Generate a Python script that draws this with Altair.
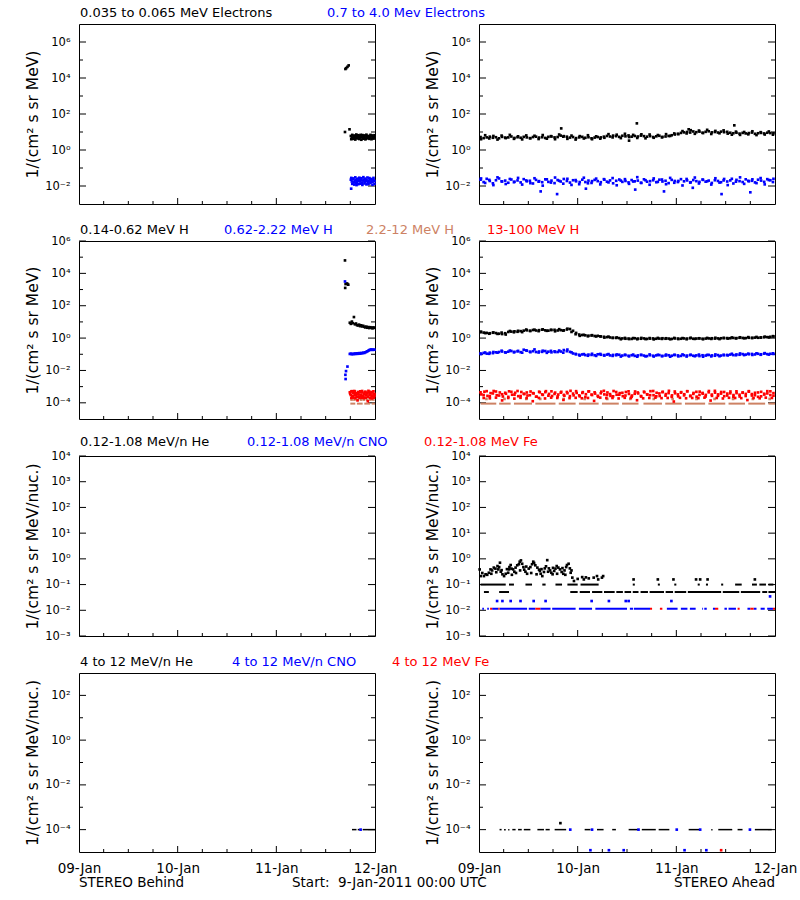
import altair as alt
import pandas as pd

FONT = "DejaVu Sans"
BLACK, BLUE, TAN, RED = "#000000", "#0000ff", "#cd8264", "#ff0000"

# ---------------- axes / labels ----------------
DAY_LABELS = ["09-Jan", "10-Jan", "11-Jan", "12-Jan"]
DAY_TICKS = [0, 24, 48, 72]
HOUR_MINOR = [6, 12, 18, 30, 36, 42, 54, 60, 66]
HOUR_MAJOR = [24, 48]
Y_DOMAINS = [(1e-3, 1e7), (1e-5, 1e6), (1e-3, 1e4), (1e-5, 1e3)]
Y_MAJOR = [[-2, 0, 2, 4, 6], [-4, -2, 0, 2, 4, 6], [-3, -2, -1, 0, 1, 2, 3, 4], [-4, -2, 0, 2]]
Y_MINOR = [[-1, 1, 3, 5], [-3, -1, 1, 3, 5], [], [-3, -1, 1]]
Y_TITLES = ["1/(cm² s sr MeV)", "1/(cm² s sr MeV)",
            "1/(cm² s sr MeV/nuc.)", "1/(cm² s sr MeV/nuc.)"]
ROW_TITLES = [
    [("0.035 to 0.065 MeV Electrons", BLACK), ("0.7 to 4.0 Mev Electrons", BLUE)],
    [("0.14-0.62 MeV H", BLACK), ("0.62-2.22 MeV H", BLUE), ("2.2-12 MeV H", TAN), ("13-100 MeV H", RED)],
    [("0.12-1.08 MeV/n He", BLACK), ("0.12-1.08 MeV/n CNO", BLUE), ("0.12-1.08 MeV Fe", RED)],
    [("4 to 12 MeV/n He", BLACK), ("4 to 12 MeV/n CNO", BLUE), ("4 to 12 MeV Fe", RED)],
]
FOOT_LEFT = "STEREO Behind"
FOOT_MID = "Start:\u00a0 9-Jan-2011 00:00 UTC"
FOOT_RIGHT = "STEREO Ahead"

# ---------------- data (hours since 9-Jan 00:00, log10 flux) ----------------
# Row 1, STEREO Behind electrons
b_e1_spike_h = [64.7, 64.8, 65.0, 65.3, 65.6, 65.8]
b_e1_spike_v = [1.00, 4.50, 4.55, 4.62, 4.70, 1.15]
b_e1_band = [0.78, 0.70, 0.62, 0.74, 0.68, 0.80, 0.72, 0.65, 0.76, 0.69, 0.84, 0.71, 0.66,
             0.75, 0.70, 0.63, 0.78, 0.72, 0.67, 0.74, 0.69, 0.80, 0.71, 0.65, 0.73]
b_e1_band_b = [0.60, 0.84, 0.64, 0.80, 0.58, 0.86, 0.66, 0.82, 0.61, 0.79, 0.57, 0.83, 0.63, 0.81,
               0.59, 0.85, 0.65, 0.78, 0.62, 0.84, 0.60, 0.80, 0.64, 0.82]
b_e2_band = [-1.65, -1.75, -1.62, -1.80, -1.70, -1.66, -1.78, -1.72, -1.60, -1.74, -1.68, -1.82, -1.70,
             -1.64, -1.76, -1.71, -1.67, -1.79, -1.73, -1.62, -1.75, -1.69, -1.77, -1.66, -1.72]
b_e2_band_b = [-1.55, -1.88, -1.58, -1.92, -1.52, -1.85, -1.60, -1.90, -1.54, -1.87, -1.57, -1.94,
               -1.51, -1.86, -1.59, -1.91, -1.53, -1.89, -1.56, -1.84, -1.61, -1.93, -1.55, -1.88]
b_e2_out_h = [66.2, 67.5]
b_e2_out_v = [-2.15, -1.95]

# Row 1, STEREO Ahead electrons
a_e1 = [0.72, 0.66, 0.70, 0.74, 0.68, 0.71, 0.65, 0.73, 0.69, 0.70, 0.75, 0.67, 0.71, 0.68, 0.73, 0.70,
        0.66, 0.72, 0.74, 0.69, 0.71, 0.67, 0.73, 0.75, 0.70, 0.72, 0.80, 0.77,
        0.74, 0.69, 0.72, 0.66, 0.70, 0.73, 0.68, 0.71, 0.65, 0.69, 0.72, 0.70, 0.74,
        0.78, 0.75, 0.80, 0.77, 0.73, 0.79, 0.76, 0.81, 0.74, 0.78, 0.75, 0.80, 0.77,
        0.74, 0.77, 0.72, 0.76, 0.79, 0.73, 0.75, 0.78,
        0.82, 0.86, 0.90, 0.95, 0.98,
        1.00, 0.97, 1.03, 0.99, 1.02, 0.96, 1.01, 1.04, 0.98, 1.00, 0.97, 1.02, 0.99, 1.01, 0.96,
        0.93, 0.96, 0.91, 0.95, 0.92, 0.94, 0.97, 0.90, 0.93, 0.95, 0.92, 0.96, 0.94, 0.93]
a_e1_b = [0.60, 0.82, 0.64, 0.78, 0.58, 0.80, 0.66, 0.84, 0.62, 0.76, 0.59, 0.81, 0.65, 0.79, 0.61,
          0.83, 0.63, 0.77, 0.60, 0.86, 0.74, 0.62, 0.80, 0.58, 0.77, 0.64, 0.82, 0.60, 0.76, 0.63,
          0.68, 0.88, 0.70, 0.85, 0.66, 0.90, 0.72, 0.84, 0.67, 0.87, 0.65, 0.86, 0.68, 0.83, 0.70,
          0.88, 0.78, 0.92, 0.88, 1.05, 0.92, 1.10, 0.90, 1.08, 0.94, 1.12, 0.89, 1.06, 0.93, 1.09,
          0.91, 0.85, 1.02, 0.84, 1.00, 0.87, 1.04, 0.83, 0.99, 0.86, 1.03, 0.85]
a_e1_out_h = [20.0, 36.5, 38.4, 51.0, 62.1]
a_e1_out_v = [1.20, 0.52, 1.48, 1.15, 1.37]
a_e2 = [-1.65, -1.78, -1.60, -1.72, -1.85, -1.68, -1.58, -1.75, -1.70, -1.82, -1.64, -1.76, -1.69, -1.80,
        -1.62, -1.74, -1.71, -1.86, -1.66, -1.73, -1.79, -1.63, -1.77, -1.70, -1.84, -1.67,
        -1.75, -1.61, -1.72, -1.81, -1.68, -1.74, -1.90, -1.65, -1.78, -1.70, -1.83, -1.66, -1.73, -1.79,
        -1.62, -1.76, -1.69, -1.85, -1.71, -1.64, -1.77, -1.72, -1.80, -1.67, -1.74, -1.70, -1.82, -1.63,
        -1.76, -1.73, -1.68, -1.79, -1.65, -1.75, -1.71, -1.84, -1.66, -1.72, -1.78, -1.62, -1.74, -1.69,
        -1.81, -1.67, -1.73, -1.77, -1.64, -1.76, -1.70, -1.83, -1.68, -1.72, -1.79, -1.61, -1.75, -1.69,
        -1.86, -1.66, -1.73, -1.78, -1.63, -1.74, -1.71, -1.80, -1.65, -1.70, -1.77, -1.62, -1.68, -1.60]
a_e2_b = [-1.58, -1.83, -1.66, -1.95, -1.52, -1.74, -1.89, -1.61, -1.79, -1.55, -1.92, -1.69, -1.84,
          -1.57, -1.76, -1.98, -1.63, -1.81, -1.53, -1.71, -1.87, -1.60, -1.94, -1.67, -1.78, -1.54,
          -1.85, -1.73, -1.59, -1.91, -1.65, -1.80, -1.56, -1.96, -1.70, -1.62, -1.88, -1.75, -1.51,
          -1.83, -1.68, -1.93, -1.58, -1.77, -1.64, -1.90, -1.55, -1.82, -1.72, -1.97, -1.61, -1.79,
          -1.53, -1.86, -1.66, -1.74, -1.92, -1.57, -1.81, -1.69, -1.95, -1.60, -1.76, -1.52, -1.88,
          -1.71, -1.63, -1.84, -1.56, -1.91, -1.67, -1.78]
a_e2_out_h = [15.0, 19.0, 26.0, 38.0, 45.0, 52.0, 59.0, 66.0]
a_e2_out_v = [-2.30, -2.45, -2.15, -2.20, -2.30, -2.10, -2.45, -2.35]

# Row 2, STEREO Behind protons
b_h1_spike_h = [64.7, 64.75, 64.85, 65.1, 65.3, 65.5]
b_h1_spike_v = [4.80, 3.10, 3.34, 3.37, 3.35, 3.30]
b_h1_band = [0.95, 0.88, 1.02, 0.92, 1.30, 0.85, 0.90, 0.80, 0.78, 0.83, 0.74, 0.79, 0.72,
             0.76, 0.70, 0.66, 0.71, 0.64, 0.68, 0.62, 0.67, 0.65, 0.60, 0.66, 0.63]
b_h2_spike_h = [64.7, 64.8, 64.85, 64.95, 65.3]
b_h2_spike_v = [3.50, -2.27, -2.53, -2.04, -1.76]
b_h2_band = [-0.98, -0.96, -1.00, -0.97, -0.99, -0.95, -0.98, -0.94, -0.97, -0.93, -0.96, -0.92, -0.94,
             -0.90, -0.92, -0.88, -0.85, -0.82, -0.78, -0.74, -0.72, -0.70, -0.73, -0.71, -0.72]
b_h4_band = [-3.35, -3.52, -3.28, -3.60, -3.42, -3.30, -3.55, -3.47, -3.38, -3.63, -3.32, -3.50, -3.27,
             -3.58, -3.44, -3.36, -3.53, -3.40, -3.62, -3.31, -3.48, -3.34, -3.56, -3.29, -3.45]
b_h4_b = [-3.45, -3.30, -3.58, -3.38, -3.27, -3.52, -3.41, -3.62, -3.33, -3.49, -3.29, -3.56, -3.36,
          -3.60, -3.44, -3.31, -3.54, -3.39, -3.26, -3.50, -3.43, -3.61, -3.34, -3.47, -3.57]
b_h4_low = [-3.70, -3.68, -3.72, -3.85, -3.70, -3.69, -3.71, -3.70, -3.90, -3.70, -3.73, -3.68]
b_h3_segs = [(66.0, 67.2), (67.6, 69.0), (69.4, 70.8), (71.2, 72.0)]
b_h3_up_h = [66.3, 67.0, 67.8, 68.6, 69.3, 70.1, 70.9, 71.6]

# Row 2, STEREO Ahead protons
a_h1 = [0.36, 0.34, 0.32, 0.30, 0.33, 0.31, 0.27, 0.25, 0.30,
        0.38, 0.40, 0.42, 0.39, 0.43,
        0.46, 0.48, 0.45, 0.50, 0.47, 0.49, 0.52, 0.48, 0.46, 0.50, 0.51, 0.47, 0.49, 0.48, 0.53, 0.56,
        0.45, 0.32, 0.22, 0.19, 0.17, 0.15, 0.16, 0.13, 0.14,
        0.10, 0.08, 0.06, 0.04, 0.02, 0.01, 0.00,
        -0.02, -0.04, -0.03, -0.05, -0.01, -0.03, -0.04, -0.02, -0.05, -0.03, -0.02, -0.04, -0.03, -0.01,
        -0.04, -0.03, -0.05, -0.02, -0.03, -0.04, -0.02, -0.03, -0.01, -0.04, -0.03, -0.02, -0.04, -0.03,
        -0.02, -0.01, -0.03, -0.02, -0.01, 0.00,
        0.00, -0.01, 0.01, 0.00, 0.02, 0.01, 0.00, 0.02, 0.01, 0.03, 0.02, 0.04, 0.05, 0.06, 0.08, 0.10]
a_h1_b = [0.40, 0.31, 0.27, 0.35, 0.26, 0.34, 0.22, 0.44, 0.36, 0.45,
          0.37, 0.53, 0.44, 0.52, 0.43, 0.54, 0.45, 0.51, 0.42, 0.55,
          0.46, 0.58, 0.38, 0.24, 0.14, 0.20, 0.11, 0.18, 0.10, 0.11,
          0.03, 0.09, 0.01, 0.04, -0.07, 0.01, -0.06, 0.00, -0.07, 0.01,
          -0.06, 0.00, -0.08, 0.01, -0.05, -0.01, -0.07, 0.01, -0.06, 0.00,
          -0.07, 0.02, -0.05, -0.01, -0.07, 0.01, -0.05, 0.02, -0.06, 0.01,
          -0.03, 0.04, -0.02, 0.05, -0.01, 0.06, 0.01, 0.07, 0.03, 0.09, 0.05, 0.12]
a_h2 = [-0.95, -0.92, -0.96, -0.90, -0.93, -0.88,
        -0.86, -0.83, -0.88, -0.84, -0.80, -0.85, -0.82, -0.87, -0.72, -0.78, -0.84, -0.81, -0.86, -0.83,
        -0.85, -0.80, -0.84, -0.88, -0.82, -0.86, -0.83, -0.74, -0.81, -0.85,
        -0.95, -1.00, -1.03, -1.01, -1.05, -1.02, -1.04, -1.06, -1.00, -1.03, -1.05, -1.02, -1.07, -1.04,
        -1.06, -1.03,
        -1.08, -1.05, -1.09, -1.06, -1.10, -1.07, -1.04, -1.08, -1.11, -1.06, -1.09, -1.07, -1.05, -1.10,
        -1.08, -1.06, -1.09, -1.04, -1.07, -1.10, -1.06, -1.08, -1.05, -1.09, -1.07, -1.11, -1.06, -1.08,
        -1.04, -1.07, -1.09, -1.05, -1.08, -1.06,
        -1.04, -1.02, -1.05, -1.01, -1.03, -0.99, -1.02, -1.00, -0.98, -1.01, -0.97, -1.00, -0.96, -0.99,
        -0.97, -0.98]
a_h2_b = [-0.99, -0.89, -0.97, -0.86, -0.90, -0.78, -0.89, -0.77, -0.88, -0.79,
          -0.90, -0.76, -0.87, -0.70, -0.89, -0.78, -0.91, -0.79, -0.86, -0.77,
          -0.90, -0.71, -0.88, -0.98, -1.08, -0.99, -1.09, -0.97, -1.10, -0.98,
          -1.08, -0.99, -1.10, -1.01, -1.14, -1.03, -1.13, -1.02, -1.15, -1.04,
          -1.13, -1.01, -1.14, -1.03, -1.12, -1.02, -1.15, -1.04, -1.13, -1.01,
          -1.14, -1.03, -1.12, -1.02, -1.15, -1.04, -1.13, -1.01, -1.12, -1.03,
          -1.07, -0.97, -1.06, -0.95, -1.05, -0.96, -1.04, -0.94, -1.03, -0.93, -1.02, -0.94]
a_h4 = [-3.35, -3.52, -3.28, -3.60, -3.42, -3.30, -3.55, -3.47, -3.38, -3.63, -3.32, -3.50, -3.27, -3.58,
        -3.44, -3.36, -3.53, -3.40, -3.62, -3.31, -3.48, -3.34, -3.56, -3.29, -3.45, -3.61, -3.37, -3.51,
        -3.33, -3.59, -3.43, -3.28, -3.54, -3.39, -3.64, -3.30, -3.49, -3.35, -3.57, -3.41, -3.26, -3.52,
        -3.46, -3.60, -3.33, -3.50, -3.38, -3.55, -3.29, -3.62, -3.44, -3.36, -3.58, -3.31, -3.47, -3.53,
        -3.27, -3.60, -3.42, -3.34, -3.56, -3.40, -3.63, -3.30, -3.48, -3.37, -3.54, -3.28, -3.59, -3.45,
        -3.32, -3.51, -3.39, -3.61, -3.35, -3.49, -3.26, -3.57, -3.43, -3.33, -3.55, -3.41, -3.62, -3.29,
        -3.50, -3.38, -3.58, -3.31, -3.46, -3.53, -3.36, -3.60, -3.44, -3.28, -3.52, -3.40]
a_h4_b = [-3.48, -3.31, -3.57, -3.40, -3.27, -3.53, -3.36, -3.61, -3.44, -3.29, -3.50, -3.38, -3.59,
          -3.33, -3.46, -3.55, -3.30, -3.42, -3.62, -3.35, -3.51, -3.28, -3.45, -3.58, -3.37, -3.49,
          -3.32, -3.56, -3.41, -3.26, -3.54, -3.39, -3.60, -3.34, -3.47, -3.29, -3.52, -3.43, -3.63,
          -3.31, -3.48, -3.36, -3.57, -3.27, -3.50, -3.40, -3.59, -3.33, -3.45, -3.55, -3.30, -3.42,
          -3.61, -3.35, -3.49, -3.28, -3.53, -3.38, -3.58, -3.32, -3.46, -3.26, -3.54, -3.41, -3.60,
          -3.34, -3.47, -3.29, -3.56, -3.39, -3.62, -3.31, -3.44, -3.51, -3.27, -3.57, -3.37, -3.48,
          -3.33, -3.59, -3.43, -3.30, -3.52, -3.40, -3.61, -3.36, -3.45, -3.28, -3.55, -3.38, -3.63,
          -3.32, -3.49, -3.42, -3.29, -3.56]
a_h4_low = [-3.70, -3.72, -3.68, -3.85, -3.70, -3.74, -3.69, -3.71, -3.90, -3.70, -3.73, -3.68, -3.70,
            -3.82, -3.71, -3.69, -3.72, -3.70, -3.88, -3.68, -3.71, -3.70, -3.73, -3.69, -3.70, -3.84,
            -3.72, -3.70, -3.68, -3.71, -3.70, -3.92, -3.69, -3.72, -3.70, -3.71, -3.68, -3.86, -3.70,
            -3.73, -3.69, -3.70, -3.71, -3.83, -3.70, -3.72, -3.68, -3.70]
a_h3_segs = [(0.4, 4.2), (4.9, 7.7), (8.5, 12.9), (13.7, 18.6), (19.4, 23.5), (24.3, 29.1), (29.9, 34.0),
             (34.8, 38.8), (40.0, 44.5), (45.3, 49.3), (50.1, 55.0), (55.8, 59.9), (60.7, 64.7),
             (65.5, 69.6), (70.4, 72.0)]
a_h3_up_h = [1.8, 6.2, 11.5, 14.9, 20.6, 25.7, 31.2, 36.8, 42.5, 47.1, 52.9, 57.3, 61.8, 66.6, 70.7]

# Row 3, STEREO Ahead 0.12-1.08 MeV/n
a_he_scatter_h = [0.16, 0.4, 1.2, 1.6, 2.4, 2.8, 3.2, 3.6, 4.0, 4.5, 4.7, 4.9, 5.1, 5.3, 5.7, 6.1, 6.5,
                  7.1, 7.3, 7.4, 7.7, 7.9, 8.3, 8.6, 8.9, 9.3, 9.7, 9.9, 10.2, 10.5, 10.8, 11.0, 11.3,
                  11.7, 12.1, 12.5, 12.9, 13.2, 13.4, 13.7, 14.2, 14.6, 14.8, 15.0, 15.4, 15.8, 16.0,
                  16.3, 16.6, 17.0, 17.3, 17.6, 17.9, 18.3, 18.6, 18.9, 19.3, 19.7, 20.1, 20.5, 20.8,
                  21.2, 21.4, 21.8, 22.1, 22.3, 22.7, 23.1, 25.1, 25.5, 26.7, 27.9, 28.7, 29.9, 30.2,
                  0.8, 2.0, 3.0, 4.2, 5.5, 6.8, 8.0, 9.0, 10.0, 11.5, 12.7, 14.0, 15.2, 16.8, 18.0,
                  19.0, 20.3, 21.0, 22.5, 24.0, 26.0, 29.0,
                  37.6, 43.5, 47.3, 52.8, 53.8, 55.6, 67.1]
a_he_scatter_v = [-0.41, -0.67, -0.67, -0.60, -0.54, -0.41, -0.45, -0.34, -0.38, -0.28, -0.41, -0.32,
                  -0.15, -0.50, -0.60, -0.67, -0.58, -0.54, -0.41, -0.32, -0.24, -0.38, -0.41, -0.50,
                  -0.34, -0.25, -0.21, -0.11, -0.06, -0.19, -0.32, -0.42, -0.50, -0.58, -0.38, -0.32,
                  -0.21, -0.11, -0.16, -0.25, -0.34, -0.42, -0.47, -0.58, -0.67, -0.51, -0.37, -0.29,
                  -0.05, -0.37, -0.45, -0.54, -0.60, -0.47, -0.38, -0.28, -0.34, -0.41, -0.51, -0.58,
                  -0.45, -0.32, -0.24, -0.19, -0.37, -0.54, -0.73, -0.86, -0.71, -0.80, -0.76, -0.73,
                  -0.67, -0.73, -0.67,
                  -0.55, -0.62, -0.58, -0.52, -0.44, -0.40, -0.62, -0.55, -0.45, -0.30, -0.55, -0.60,
                  -0.40, -0.50, -0.35, -0.58, -0.36, -0.62, -0.45, -0.78, -0.72, -0.80,
                  -0.80, -0.80, -0.80, -0.80, -0.80, -0.80, -0.80]
a_he_01_segs = [(0.4, 6.5), (7.3, 8.5), (11.3, 12.9), (15.4, 16.2), (18.6, 20.2), (21.5, 24.0),
                (24.7, 29.1), (37.4, 37.9), (43.5, 44.0), (47.5, 48.0), (53.2, 53.7), (55.2, 55.7),
                (58.9, 59.4), (62.3, 63.9), (66.4, 67.6), (68.2, 69.8), (70.4, 71.6)]
a_he_005_segs = [(1.2, 2.4), (4.9, 7.3), (22.2, 24.0), (24.5, 27.0), (27.5, 30.0), (30.4, 33.0),
                 (33.4, 35.0), (35.4, 37.0), (37.4, 38.8), (39.3, 41.1), (41.5, 45.0), (45.4, 47.2),
                 (47.6, 50.4), (50.8, 58.9), (59.3, 63.3), (63.7, 68.4), (68.9, 70.1), (70.4, 72.0)]
a_cno_segs = [(0.8, 1.2), (2.0, 2.4), (3.2, 4.7), (5.0, 11.7), (12.1, 13.7), (14.9, 17.4), (17.8, 23.5),
              (24.3, 27.5), (28.3, 36.0), (36.7, 37.5), (37.7, 41.6), (45.7, 48.3), (49.1, 50.7),
              (51.3, 52.7), (54.3, 54.5), (54.8, 55.4), (56.9, 57.4), (59.7, 60.3), (60.7, 62.5),
              (65.3, 66.0), (66.8, 67.5), (68.5, 69.5), (70.1, 71.5)]
a_fe_segs = [(2.7, 3.2), (4.7, 5.0), (13.7, 14.9), (41.6, 42.1), (44.0, 44.6), (57.4, 58.2),
             (62.9, 63.4), (66.0, 66.8), (71.5, 72.0)]
a_cno_up_h = [4.4, 5.7, 7.7, 10.1, 13.3, 16.2, 27.4, 31.6, 35.7, 36.4, 46.8, 70.8]
a_cno_up_v = [-1.64, -1.64, -1.64, -1.64, -1.64, -1.64, -1.64, -1.64, -1.64, -1.64, -1.64, -1.46]
HE_LEVEL_01, HE_LEVEL_005, CNO_LEVEL = -1.0, -1.29, -1.94

# Row 4, 4-12 MeV/n
b_he4_segs = [(66.4, 67.5), (67.8, 68.3), (69.0, 72.0)]
b_cno4_h = [68.5]
a_he4_segs = [(5.0, 5.5), (6.1, 6.5), (7.1, 7.4), (8.1, 8.9), (9.5, 10.4), (10.9, 12.5), (14.2, 15.8),
              (16.2, 17.2), (18.4, 21.2), (25.7, 27.1), (28.7, 30.3), (32.4, 33.3), (36.4, 38.7),
              (39.6, 43.0), (43.7, 46.3), (51.0, 53.6), (56.5, 56.8), (58.2, 61.6), (62.9, 64.1),
              (67.1, 71.2)]
a_cno4_h = [22.2, 27.5, 38.8, 48.1, 53.8, 65.9]
a_cno4_low_h = [27.1, 31.6, 35.2, 50.0, 55.3]
a_fe4_low_h = [58.9]
a_he4_high_h, a_he4_high_v = [19.8], [-3.71]
LEVEL4, LEVEL4_LOW = -4.0, -4.92

# ---------------- layout ----------------
W = 296
ROW_H = [180, 178, 180, 179]
ROW_TITLE_X = [[1, 248], [1, 145, 287, 408], [1, 168, 345], [1, 153, 313]]
ROW_TITLE_Y = [-11, -11, -14, -11]
SEG_W = [2, 2, 2, 1.5]


def band(t0, t1, vals, color):
    step = (t1 - t0) / len(vals)
    return [{"h": t0 + (i + 0.5) * step, "v": 10 ** x, "c": color} for i, x in enumerate(vals)]


def pts(hs, vs, color):
    return [{"h": h, "v": 10 ** v, "c": color} for h, v in zip(hs, vs)]


def segs(pairs, level, color):
    return [{"h": a, "h2": b, "v": 10 ** level, "c": color} for a, b in pairs]


SUP = "['10⁻⁵','10⁻⁴','10⁻³','10⁻²','10⁻¹','10⁰','10¹','10²','10³','10⁴','10⁵','10⁶','10⁷']"


def panel(row, points, segments, bottom=False, titles=None, foot=None):
    H = ROW_H[row]
    ysc = alt.Scale(type="log", domain=list(Y_DOMAINS[row]), nice=False)
    xsc = alt.Scale(domain=[0, 72], nice=False, zero=False)
    yax = alt.Axis(values=[10.0 ** e for e in Y_MAJOR[row]],
                   labelExpr=SUP + "[round(log(datum.value)/LN10)+5]",
                   title=Y_TITLES[row], grid=False, ticks=False, domain=False,
                   labelPadding=9, labelFont=FONT, labelFontSize=11.5, labelColor=BLACK,
                   labelOverlap=False, labelBound=False, labelFlush=False,
                   titleFont=FONT, titleFontSize=15.5, titleFontWeight="normal", titleColor=BLACK,
                   titleAngle=270, titleX=-47, titleY=H / 2, titleAlign="center",
                   titleBaseline="middle")
    if bottom:
        xax = alt.Axis(values=DAY_TICKS, labelExpr=str(DAY_LABELS) + "[round(datum.value/24)]",
                       title=None, grid=False, ticks=False, domain=False, labelPadding=9,
                       labelFont=FONT, labelFontSize=13.5, labelColor=BLACK,
                       labelFlush=False, labelOverlap=False)
    else:
        xax = None

    def Y():
        return alt.Y("v:Q", scale=ysc, axis=yax)

    def X():
        return alt.X("h:Q", scale=xsc, axis=xax)

    major = pd.DataFrame({"v": [10.0 ** e for e in Y_MAJOR[row]]})
    layers = [
        alt.Chart(major).mark_rule(color=BLACK).encode(y=Y(), x=alt.value(0), x2=alt.value(7)),
        alt.Chart(major).mark_rule(color=BLACK).encode(y=Y(), x=alt.value(W - 7), x2=alt.value(W)),
    ]
    if Y_MINOR[row]:
        minor = pd.DataFrame({"v": [10.0 ** e for e in Y_MINOR[row]]})
        layers += [
            alt.Chart(minor).mark_rule(color=BLACK).encode(y=Y(), x=alt.value(0), x2=alt.value(4)),
            alt.Chart(minor).mark_rule(color=BLACK).encode(y=Y(), x=alt.value(W - 4), x2=alt.value(W)),
        ]
    layers += [
        alt.Chart(pd.DataFrame({"h": HOUR_MAJOR})).mark_rule(color=BLACK).encode(
            x=X(), y=alt.value(H - 6), y2=alt.value(H)),
        alt.Chart(pd.DataFrame({"h": HOUR_MINOR})).mark_rule(color=BLACK).encode(
            x=X(), y=alt.value(H - 3), y2=alt.value(H)),
    ]
    if segments:
        layers.append(alt.Chart(pd.DataFrame(segments)).mark_rule(strokeWidth=SEG_W[row]).encode(
            x=X(), x2="h2:Q", y=Y(), color=alt.Color("c:N", scale=None)))
    if points:
        layers.append(alt.Chart(pd.DataFrame(points)).mark_square(size=7, opacity=1).encode(
            x=X(), y=Y(), color=alt.Color("c:N", scale=None)))
    if titles:
        for (txt, col), px in zip(titles, ROW_TITLE_X[row]):
            layers.append(alt.Chart(pd.DataFrame({"t": [txt]})).mark_text(
                align="left", baseline="middle", font=FONT, fontSize=13, color=col).encode(
                x=alt.value(px), y=alt.value(ROW_TITLE_Y[row]), text="t:N"))
    if foot:
        for txt, px, al in foot:
            layers.append(alt.Chart(pd.DataFrame({"t": [txt]})).mark_text(
                align=al, baseline="middle", font=FONT, fontSize=13.5, color=BLACK).encode(
                x=alt.value(px), y=alt.value(H + 31), text="t:N"))
    return alt.layer(*layers).properties(width=W, height=H)


# Row 1
p1l = (pts(b_e1_spike_h, b_e1_spike_v, BLACK) + band(66.0, 72.0, b_e1_band, BLACK)
       + band(66.1, 72.0, b_e1_band_b, BLACK)
       + band(66.0, 72.0, b_e2_band, BLUE) + band(66.1, 72.0, b_e2_band_b, BLUE)
       + pts(b_e2_out_h, b_e2_out_v, BLUE))
p1r = (band(0, 72, a_e1, BLACK) + band(0, 72, a_e1_b, BLACK) + pts(a_e1_out_h, a_e1_out_v, BLACK)
       + band(0, 72, a_e2, BLUE) + band(0, 72, a_e2_b, BLUE) + pts(a_e2_out_h, a_e2_out_v, BLUE))
# Row 2
p2l = (pts(b_h1_spike_h, b_h1_spike_v, BLACK) + band(65.75, 72.0, b_h1_band, BLACK)
       + pts(b_h2_spike_h, b_h2_spike_v, BLUE) + band(65.75, 72.0, b_h2_band, BLUE)
       + pts(b_h3_up_h, [-3.80] * len(b_h3_up_h), TAN)
       + band(65.75, 72.0, b_h4_band, RED) + band(65.85, 72.0, b_h4_b, RED)
       + band(66.0, 72.0, b_h4_low, RED))
s2l = segs(b_h3_segs, -4.05, TAN)
p2r = (band(0, 72, a_h1, BLACK) + band(0, 72, a_h1_b, BLACK)
       + band(0, 72, a_h2, BLUE) + band(0, 72, a_h2_b, BLUE)
       + pts(a_h3_up_h, [-3.76] * len(a_h3_up_h), TAN)
       + band(0, 72, a_h4, RED) + band(0.2, 72, a_h4_b, RED) + band(0.4, 72, a_h4_low, RED))
s2r = segs(a_h3_segs, -4.05, TAN)
# Row 3
p3r = pts(a_he_scatter_h, a_he_scatter_v, BLACK) + pts(a_cno_up_h, a_cno_up_v, BLUE)
s3r = (segs(a_he_01_segs, HE_LEVEL_01, BLACK) + segs(a_he_005_segs, HE_LEVEL_005, BLACK)
       + segs(a_cno_segs, CNO_LEVEL, BLUE) + segs(a_fe_segs, CNO_LEVEL, RED))
# Row 4
s4l = segs(b_he4_segs, LEVEL4, BLACK)
p4l = pts(b_cno4_h, [LEVEL4] * len(b_cno4_h), BLUE)
s4r = segs(a_he4_segs, LEVEL4, BLACK)
p4r = (pts(a_cno4_h, [LEVEL4] * len(a_cno4_h), BLUE) + pts(a_cno4_low_h, [LEVEL4_LOW] * len(a_cno4_low_h), BLUE)
       + pts(a_fe4_low_h, [LEVEL4_LOW] * len(a_fe4_low_h), RED) + pts(a_he4_high_h, a_he4_high_v, BLACK))

panels = [
    panel(0, p1l, [], titles=ROW_TITLES[0]), panel(0, p1r, []),
    panel(1, p2l, s2l, titles=ROW_TITLES[1]), panel(1, p2r, s2r),
    panel(2, [], [], titles=ROW_TITLES[2]), panel(2, p3r, s3r),
    panel(3, p4l, s4l, bottom=True, titles=ROW_TITLES[3],
          foot=[(FOOT_LEFT, 0, "left"), (FOOT_MID, 213, "left")]),
    panel(3, p4r, s4r, bottom=True, foot=[(FOOT_RIGHT, W, "right")]),
]

chart = alt.concat(*panels, columns=2, spacing={"row": 37, "column": 104},
                   bounds="flush", align="each").properties(
    padding={"left": 24, "top": 6, "right": 2, "bottom": 4}, background="white"
).configure(font=FONT).configure_view(stroke=BLACK, strokeWidth=1)

chart.save("out.html", embed_options={"renderer": "svg", "actions": False})
